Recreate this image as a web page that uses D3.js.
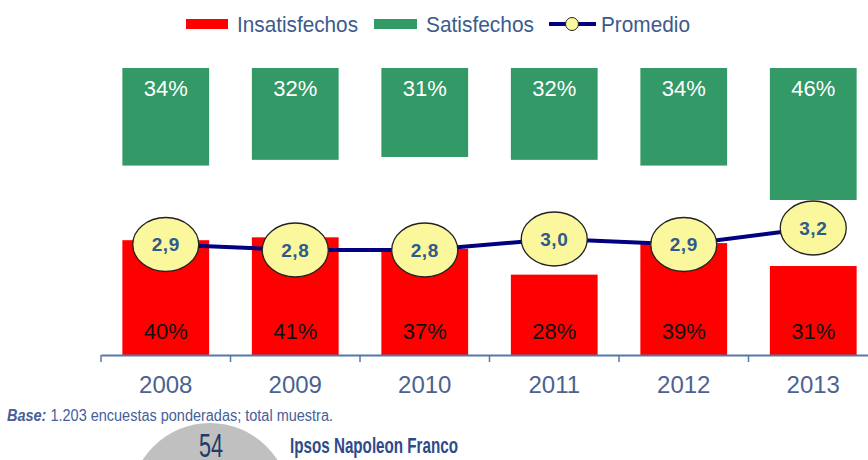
<!DOCTYPE html>
<html>
  <head>
    <meta charset="utf-8">
    <title>Insatisfechos / Satisfechos / Promedio</title>
    <script src="https://cdn.jsdelivr.net/npm/d3@7"></script>
    <style>
      body { margin: 0; background: #fff; }
      svg { display: block; font-family: "Liberation Sans", Arial, sans-serif; }
    </style>
  </head>

  <body>
    <svg id="chart" width="868" height="460"></svg>

    <script>
      // data
      var years = ["2008", "2009", "2010", "2011", "2012", "2013"];
      var insatisfechos = [40, 41, 37, 28, 39, 31];
      var satisfechos = [34, 32, 31, 32, 34, 46];
      var promedio = [2.9, 2.8, 2.8, 3.0, 2.9, 3.2];
      var promedioLabels = ["2,9", "2,8", "2,8", "3,0", "2,9", "3,2"];

      var rows = years.map(function(d, i) {
        return { year: d, ins: insatisfechos[i], sat: satisfechos[i], avg: promedio[i], avgLabel: promedioLabels[i] };
      });

      var red = "#ff0000",
          green = "#339966",
          navy = "#000080",
          textBlue = "#3d5a8c";

      var chart = d3.select("#chart");

      // scales
      var x = d3.scaleBand()
        .domain(years)
        .range([101, 878])
        .paddingInner(0.33)
        .paddingOuter(0.165);
      var y = d3.scaleLinear()
        .domain([0, 100])
        .range([355, 68]);
      var yAvg = d3.scaleLinear()
        .domain([2.8, 3.2])
        .range([250, 228]);

      // green bars hang from the top (100%)
      var sat = chart.append("g").selectAll("g")
        .data(rows)
        .enter().append("g");
      sat.append("rect")
        .attr("x", function(d) { return x(d.year); })
        .attr("y", y(100))
        .attr("width", x.bandwidth())
        .attr("height", function(d) { return y(100 - d.sat) - y(100); })
        .attr("fill", green);
      sat.append("text")
        .attr("x", function(d) { return x(d.year) + x.bandwidth() / 2; })
        .attr("y", y(100) + 28)
        .attr("text-anchor", "middle")
        .attr("font-size", 22)
        .attr("fill", "#fff")
        .text(function(d) { return d.sat + "%"; });

      // red bars from the bottom
      var ins = chart.append("g").selectAll("g")
        .data(rows)
        .enter().append("g");
      ins.append("rect")
        .attr("x", function(d) { return x(d.year); })
        .attr("y", function(d) { return y(d.ins); })
        .attr("width", x.bandwidth())
        .attr("height", function(d) { return y(0) - y(d.ins); })
        .attr("fill", red);
      ins.append("text")
        .attr("x", function(d) { return x(d.year) + x.bandwidth() / 2; })
        .attr("y", y(0) - 16)
        .attr("text-anchor", "middle")
        .attr("font-size", 22)
        .attr("fill", "#111")
        .text(function(d) { return d.ins + "%"; });

      // x axis
      var xAxis = d3.axisBottom(x)
        .tickSize(0)
        .tickPadding(21)
        .tickSizeOuter(0);
      var xAxisGroup = chart.append("g")
        .attr("transform", "translate(0," + y(0) + ")")
        .call(xAxis);
      xAxisGroup.select(".domain")
        .attr("stroke", "#5677a8")
        .attr("stroke-width", 2);
      xAxisGroup.selectAll("text")
        .attr("font-size", 24)
        .attr("font-family", "Liberation Sans, Arial, sans-serif")
        .attr("fill", "#4a6390");
      xAxisGroup.selectAll(".sep")
        .data(years)
        .enter().append("line")
          .attr("class", "sep")
          .attr("x1", function(d) { return x(d) - x.step() * x.paddingInner() / 2; })
          .attr("x2", function(d) { return x(d) - x.step() * x.paddingInner() / 2; })
          .attr("y1", 0)
          .attr("y2", 7)
          .attr("stroke", "#5677a8")
          .attr("stroke-width", 1.5);

      // promedio line
      var line = d3.line()
        .x(function(d) { return x(d.year) + x.bandwidth() / 2; })
        .y(function(d) { return yAvg(d.avg); });
      chart.append("path")
        .datum(rows)
        .attr("d", line)
        .attr("fill", "none")
        .attr("stroke", navy)
        .attr("stroke-width", 4);

      var bubbles = chart.append("g").selectAll("g")
        .data(rows)
        .enter().append("g")
          .attr("transform", function(d) {
            return "translate(" + (x(d.year) + x.bandwidth() / 2) + "," + yAvg(d.avg) + ")";
          });
      bubbles.append("ellipse")
        .attr("rx", 33)
        .attr("ry", 27)
        .attr("fill", "#fbf79c")
        .attr("stroke", "#222")
        .attr("stroke-width", 1.3);
      bubbles.append("text")
        .attr("text-anchor", "middle")
        .attr("dy", "0.36em")
        .attr("font-size", 19)
        .attr("font-weight", "bold")
        .attr("letter-spacing", 0.5)
        .attr("fill", "#2f5a8e")
        .text(function(d) { return d.avgLabel; });

      // legend
      var legend = chart.append("g");
      legend.append("rect")
        .attr("x", 186).attr("y", 19).attr("width", 42).attr("height", 10)
        .attr("fill", red);
      legend.append("text")
        .attr("x", 237).attr("y", 32)
        .attr("font-size", 22).attr("fill", textBlue)
        .attr("textLength", 121).attr("lengthAdjust", "spacingAndGlyphs")
        .text("Insatisfechos");
      legend.append("rect")
        .attr("x", 374).attr("y", 19).attr("width", 43).attr("height", 10)
        .attr("fill", green);
      legend.append("text")
        .attr("x", 426).attr("y", 32)
        .attr("font-size", 22).attr("fill", textBlue)
        .attr("textLength", 108).attr("lengthAdjust", "spacingAndGlyphs")
        .text("Satisfechos");
      legend.append("line")
        .attr("x1", 549).attr("x2", 596).attr("y1", 24).attr("y2", 24)
        .attr("stroke", navy).attr("stroke-width", 4);
      legend.append("circle")
        .attr("cx", 572).attr("cy", 24).attr("r", 6.5)
        .attr("fill", "#fbf79c").attr("stroke", "#222").attr("stroke-width", 1);
      legend.append("text")
        .attr("x", 601).attr("y", 32)
        .attr("font-size", 22).attr("fill", textBlue)
        .attr("textLength", 89).attr("lengthAdjust", "spacingAndGlyphs")
        .text("Promedio");

      // base note
      var note = chart.append("text")
        .attr("x", 7).attr("y", 421)
        .attr("font-size", 16).attr("fill", "#45609a")
        .attr("textLength", 326).attr("lengthAdjust", "spacingAndGlyphs");
      note.append("tspan")
        .attr("font-weight", "bold").attr("font-style", "italic")
        .text("Base:");
      note.append("tspan")
        .text(" 1.203 encuestas ponderadas; total muestra.");

      // footer decoration
      chart.append("circle")
        .attr("cx", 210).attr("cy", 503).attr("r", 80)
        .attr("fill", "#c0c0c0");
      chart.append("text")
        .attr("x", 211).attr("y", 457)
        .attr("text-anchor", "middle")
        .attr("font-size", 34).attr("fill", "#1f3b6a")
        .attr("textLength", 24).attr("lengthAdjust", "spacingAndGlyphs")
        .text("54");
      chart.append("text")
        .attr("x", 290).attr("y", 453)
        .attr("font-size", 22).attr("font-weight", "bold").attr("fill", "#2e4a8a")
        .attr("textLength", 168).attr("lengthAdjust", "spacingAndGlyphs")
        .text("Ipsos Napoleon Franco");
    </script>
  </body>
</html>
